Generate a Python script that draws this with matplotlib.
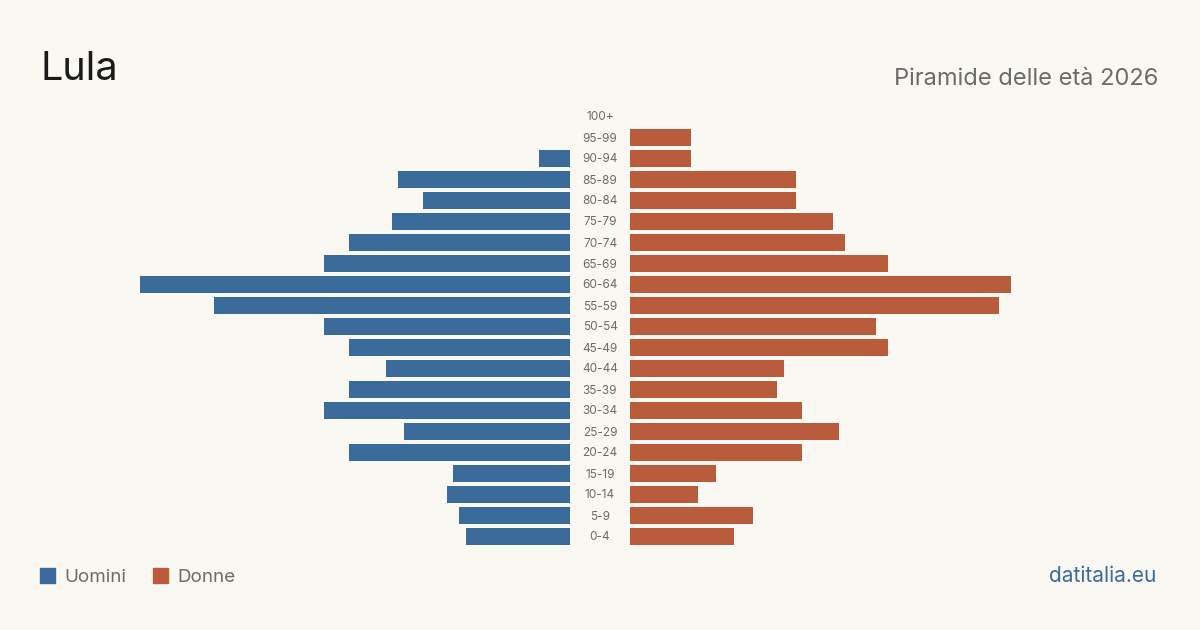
import matplotlib
matplotlib.use('Agg')
import matplotlib.pyplot as plt
from matplotlib.patches import Rectangle

# Age groups from youngest to oldest
age_groups = ['0-4', '5-9', '10-14', '15-19', '20-24', '25-29', '30-34', '35-39',
              '40-44', '45-49', '50-54', '55-59', '60-64', '65-69', '70-74',
              '75-79', '80-84', '85-89', '90-94', '95-99', '100+']
men = [17, 18, 20, 19, 36, 27, 40, 36, 30, 36, 40, 58, 70, 40, 36, 29, 24, 28, 5, 0, 0]
women = [17, 20, 11, 14, 28, 34, 28, 24, 25, 42, 40, 60, 62, 42, 35, 33, 27, 27, 10, 10, 0]

BG = '#faf8f3'
BLUE = '#3b6b9b'
ORANGE = '#b95c3c'
GREY = '#6b6b6b'
FONT = ['Inter', 'DejaVu Sans']

W, H = 1200, 630
fig = plt.figure(figsize=(12, 6.3), dpi=100, facecolor=BG)

top_px, bot_px = 105.5, 546.5
bottom = (H - bot_px) / H
height = (bot_px - top_px) / H
xmax = max(max(men), max(women))

ax_l = fig.add_axes([140 / W, bottom, 430 / W, height])
ax_r = fig.add_axes([630 / W, bottom, 430 / W, height])

y = list(range(len(age_groups)))
bar_h = 17 / 21
ax_l.barh(y, men, height=bar_h, color=BLUE)
ax_r.barh(y, women, height=bar_h, color=ORANGE)
ax_l.set_xlim(xmax, 0)
ax_r.set_xlim(0, xmax)

for ax in (ax_l, ax_r):
    ax.set_ylim(-0.5, len(age_groups) - 0.5)
    ax.set_facecolor('none')
    ax.axis('off')

# age labels in the middle gap (baseline-anchored)
for i, lab in enumerate(age_groups):
    yf = (H - (bot_px - (i + 0.5) * 21 + 4.5)) / H
    fig.text(600 / W, yf, lab, ha='center', va='baseline', fontsize=8.5,
             color=GREY, family=FONT)

fig.text(41 / W, 1 - 80 / H, 'Lula', fontsize=28.5, color='#1a1a1a',
         family=FONT, va='baseline')
fig.text(1158 / W, 1 - 85 / H, 'Piramide delle età 2026', fontsize=17,
         color=GREY, family=FONT, ha='right', va='baseline')

# legend
fig.patches.append(Rectangle((40 / W, 1 - 583 / H), 15 / W, 15 / H,
                             transform=fig.transFigure, color=BLUE))
fig.text(64 / W, 1 - 582 / H, 'Uomini', fontsize=13.5, color=GREY,
         family=FONT, va='baseline')
fig.patches.append(Rectangle((153 / W, 1 - 583 / H), 15 / W, 15 / H,
                             transform=fig.transFigure, color=ORANGE))
fig.text(177 / W, 1 - 582 / H, 'Donne', fontsize=13.5, color=GREY,
         family=FONT, va='baseline')

fig.text(1156 / W, 1 - 582 / H, 'datitalia.eu', fontsize=15, color=BLUE,
         family=FONT, ha='right', va='baseline')

fig.savefig('out.png', dpi=100, facecolor=BG)
